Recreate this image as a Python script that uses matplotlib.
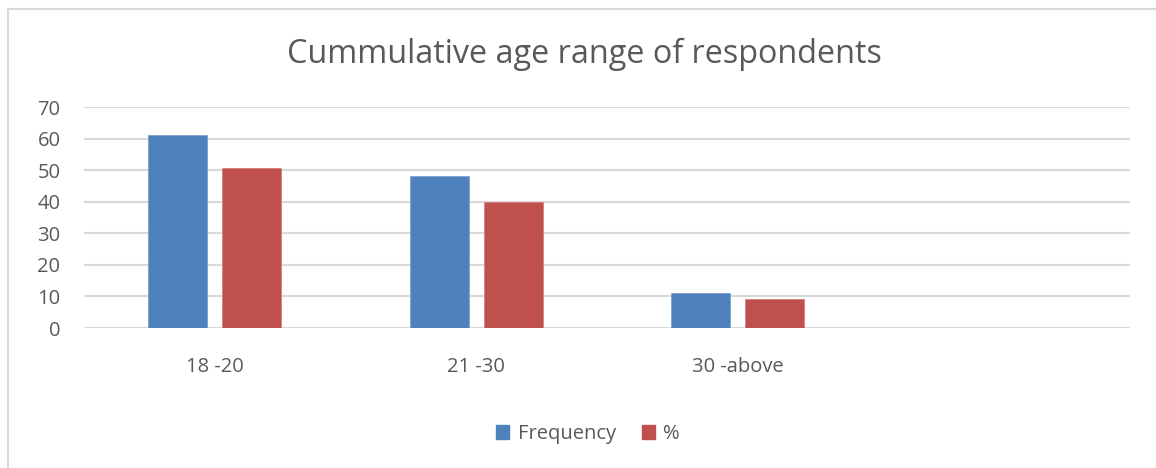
import numpy as np
import matplotlib.pyplot as plt
from matplotlib import rcParams
from matplotlib.patches import Patch
from matplotlib.lines import Line2D

rcParams["font.family"] = ["Open Sans", "DejaVu Sans"]

# Data
categories = ["18 -20", "21 -30", "30 -above", ""]
frequency = [61, 48, 11, 0]
percent = [50.8, 40.0, 9.2, 0]
yticks = [0, 10, 20, 30, 40, 50, 60, 70]

c_blue = "#4F81BD"
c_red = "#C0504D"
c_grid = "#D9D9D9"
c_text = "#595959"
fs = 14.5

W, H = 1156, 468
fig = plt.figure(figsize=(W/100, H/100), dpi=100)

# chart frame (left and top edges only)
fig.add_artist(Line2D([8/W, 8/W], [0, 1 - 9/H], color=c_grid, lw=1.5))
fig.add_artist(Line2D([8/W, 1], [1 - 9/H, 1 - 9/H], color=c_grid, lw=1.5))

ax = fig.add_axes([84/W, 140/H, 1046/W, 221/H])
x = np.arange(len(categories))
bw = 0.226
off = 0.1415
ax.bar(x - off, frequency, bw, color=c_blue, edgecolor="#7DA1CF", lw=0.6, zorder=3)
ax.bar(x + off, percent, bw, color=c_red, edgecolor="#D4807E", lw=0.6, zorder=3)

ax.set_xlim(-0.5, 3.5)
ax.set_ylim(0, 70)
ax.set_yticks(yticks)
ax.set_xticks(x)
ax.set_xticklabels(categories)
ax.tick_params(axis="both", length=0, labelsize=fs, labelcolor=c_text)
ax.tick_params(axis="x", pad=21)
ax.tick_params(axis="y", pad=17)
for lab in ax.get_yticklabels():
    lab.set_horizontalalignment("right")
ax.grid(axis="y", color=c_grid, lw=1.5, zorder=0)
for s in ax.spines.values():
    s.set_visible(False)

fig.text(584/W, 1 - 54/H, "Cummulative age range of respondents",
         ha="center", va="center", fontsize=23.3, color=c_text)

handles = [Patch(color=c_blue, label="Frequency"), Patch(color=c_red, label="%")]
fig.legend(handles=handles, loc="center", bbox_to_anchor=(588/W, 1 - 434/H),
           ncol=2, frameon=False, fontsize=fs, labelcolor=c_text,
           handlelength=0.65, handleheight=0.65, handletextpad=0.4, columnspacing=1.3)

plt.savefig("out.png", dpi=100)
